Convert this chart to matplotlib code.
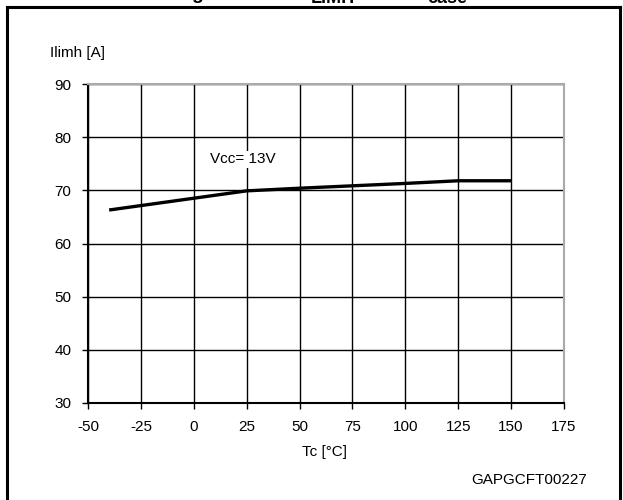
import matplotlib
matplotlib.use("Agg")
import matplotlib.pyplot as plt
from matplotlib.lines import Line2D

plt.rcParams['font.family'] = ['Liberation Sans', 'DejaVu Sans']

# Data
tc = [-40, 25, 50, 75, 100, 125, 150]
ilimh = [66.3, 69.9, 70.4, 70.85, 71.3, 71.8, 71.8]
xticks = [-50, -25, 0, 25, 50, 75, 100, 125, 150, 175]
yticks = [30, 40, 50, 60, 70, 80, 90]
annot = "Vcc= 13V"

W, H = 623, 500
fig = plt.figure(figsize=(W / 100, H / 100), dpi=100)
ax = fig.add_axes([88 / W, 1 - 403 / H, (564 - 88) / W, (403 - 84) / H])

ax.set_xlim(-50, 175)
ax.set_ylim(30, 90)
ax.set_xticks(xticks)
ax.set_yticks(yticks)
ax.set_xticklabels([str(v) for v in xticks])
ax.set_yticklabels([str(v) for v in yticks])
ax.grid(True, color='black', linewidth=1.0)
ax.set_axisbelow(True)
ax.tick_params(direction='out', length=4, width=1.0, labelsize=11, pad=8)

for s in ['left', 'bottom']:
    ax.spines[s].set_color('black')
    ax.spines[s].set_linewidth(1.5)
for s in ['top', 'right']:
    ax.spines[s].set_color('#aaaaaa')
    ax.spines[s].set_linewidth(1.5)

ax.plot(tc, ilimh, color='black', linewidth=2.4, solid_capstyle='butt', zorder=3)

ax.text(23.3, 75.8, annot, ha='center', va='center', fontsize=11,
        bbox=dict(facecolor='white', edgecolor='none', pad=1.0), zorder=4)

fig.text(50 / W, 1 - 53 / H, "Ilimh [A]", ha='left', va='center', fontsize=11)
fig.text(324 / W, 1 - 452 / H, "Tc [°C]", ha='center', va='center', fontsize=11)
fig.text(587 / W, 1 - 480 / H, "GAPGCFT00227", ha='right', va='center', fontsize=11)

# Frame border
frame_kw = dict(color='black', linewidth=2.2, transform=fig.transFigure)
fig.add_artist(Line2D([7 / W, 7 / W], [0, 1 - 7 / H], **frame_kw))
fig.add_artist(Line2D([620 / W, 620 / W], [0, 1 - 7 / H], **frame_kw))
fig.add_artist(Line2D([7 / W, 620 / W], [1 - 7 / H, 1 - 7 / H], **frame_kw))

# Cut-off title fragments at the top
fig.text(197 / W, 1 + 1.0 / H, "g", ha='center', va='baseline', fontsize=14, fontweight='bold')
fig.text(333 / W, 1 - 3.0 / H, "LIMH", ha='center', va='baseline', fontsize=13, fontweight='bold')
fig.text(447 / W, 1 - 3.0 / H, "case", ha='center', va='baseline', fontsize=13, fontweight='bold')

fig.savefig("out.png", dpi=100)
